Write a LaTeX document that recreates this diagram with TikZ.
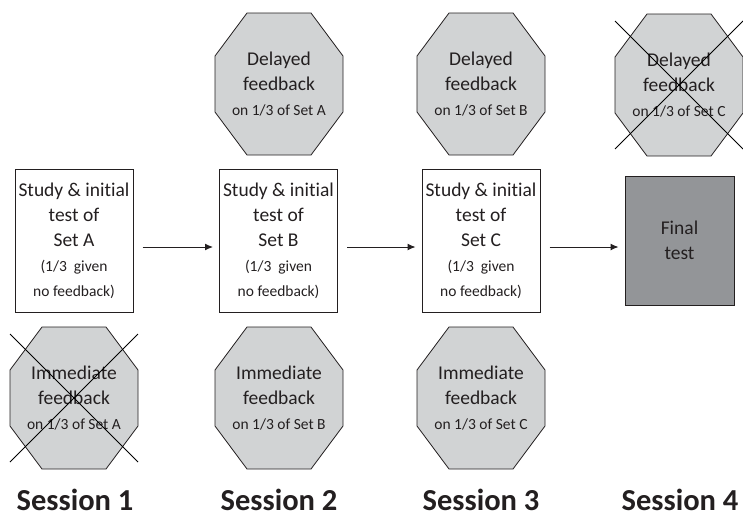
\documentclass[tikz,border=0pt]{standalone}
\usepackage{fontspec}
\setmainfont{Carlito}[Ligatures=NoCommon]
\usetikzlibrary{arrows.meta,calc,backgrounds}
\definecolor{inkgray}{RGB}{35,31,32}
\definecolor{octgray}{RGB}{209,211,212}
\definecolor{finalgray}{RGB}{147,149,152}
\newcommand{\smalltxt}{\fontsize{15.5}{23}\selectfont}
\tikzset{
  studybox/.style={draw=inkgray, line width=1pt, minimum width=118, minimum height=143,
    inner sep=0pt, align=center, text=inkgray, font=\fontsize{19.5}{25}\selectfont},
  octtext/.style={align=center, text=inkgray, inner sep=0pt, font=\fontsize{19.5}{25}\selectfont},
  octline/.style={draw=inkgray, fill=octgray, line width=0.8pt},
  crossline/.style={draw=black, line width=0.9pt},
  flow/.style={-{Latex[length=8pt,width=7pt]}, line width=1pt, inkgray, shorten <=9pt, shorten >=6pt},
  session/.style={font=\fontsize{30.5}{32}\bfseries\selectfont, text=inkgray, inner sep=0pt}
}

\begin{document}
\begin{tikzpicture}[x=1pt, y=-1pt]
  \useasboundingbox (0,0) rectangle (743,517);

  % study and test boxes
  \node [studybox] (sA) at (74,240.5) {Study \& initial\\test of\\Set A\\\smalltxt(1/3~ given\\\smalltxt no feedback)};
  \node [studybox] (sB) at (278.5,240.5) {Study \& initial\\test of\\Set B\\\smalltxt(1/3~ given\\\smalltxt no feedback)};
  \node [studybox] (sC) at (481,240.5) {Study \& initial\\test of\\Set C\\\smalltxt(1/3~ given\\\smalltxt no feedback)};
  \node [studybox, fill=finalgray, minimum width=109, minimum height=129] (fin) at (679.5,240.5) {Final\\test};

  % feedback octagons
  \node [octtext] (dA) at (279,84) {Delayed\\feedback\\\smalltxt on 1/3 of Set A};
  \node [octtext] (dB) at (481,84) {Delayed\\feedback\\\smalltxt on 1/3 of Set B};
  \node [octtext] (dC) at (679,85) {Delayed\\feedback\\\smalltxt on 1/3 of Set C};
  \node [octtext] (iA) at (74,398) {Immediate\\feedback\\\smalltxt on 1/3 of Set A};
  \node [octtext] (iB) at (279,398) {Immediate\\feedback\\\smalltxt on 1/3 of Set B};
  \node [octtext] (iC) at (481,398) {Immediate\\feedback\\\smalltxt on 1/3 of Set C};

  \begin{scope}[on background layer]
    \foreach \o in {dA,dB,dC,iA,iB,iC} {
      \draw [octline] ($(\o)+(-32,-71)$) -- ($(\o)+(32,-71)$) -- ($(\o)+(64,-28)$) -- ($(\o)+(64,28)$)
        -- ($(\o)+(32,71)$) -- ($(\o)+(-32,71)$) -- ($(\o)+(-64,28)$) -- ($(\o)+(-64,-28)$) -- cycle;
    }
  \end{scope}

  % dropped conditions
  \foreach \o in {iA,dC} {
    \draw [crossline] ($(\o)+(-64,-64)$) -- ($(\o)+(64,64)$);
    \draw [crossline] ($(\o)+(64,-64)$) -- ($(\o)+(-64,64)$);
  }

  % sequence
  \draw [flow] ([yshift=-6.5pt]sA.east) -- ([yshift=-6.5pt]sB.west);
  \draw [flow] ([yshift=-6.5pt]sB.east) -- ([yshift=-6.5pt]sC.west);
  \draw [flow] ([yshift=-6.5pt]sC.east) -- ([yshift=-6.5pt]fin.west);

  % sessions
  \node [session] (s1) at (75,500) {Session 1};
  \node [session] (s2) at (279,500) {Session 2};
  \node [session] (s3) at (481,500) {Session 3};
  \node [session] (s4) at (680,500) {Session 4};
\end{tikzpicture}
\end{document}
